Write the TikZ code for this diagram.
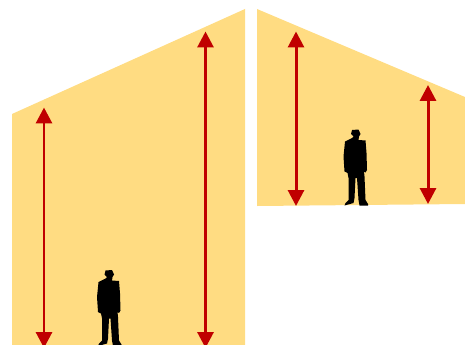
\documentclass[tikz,border=0pt]{standalone}
\usepackage{xcolor}
\usetikzlibrary{arrows.meta}
\definecolor{wallYellow}{RGB}{255,220,130}
\definecolor{heightRed}{RGB}{192,0,0}
\tikzset{
  wallshape/.style={fill=wallYellow,draw=none},
  heightline/.style={draw=heightRed,line width=1.7pt,{Triangle[length=9pt,width=9pt]}-{Triangle[length=9pt,width=9pt]}},
  person/.pic={
    \fill[black] (-4,-75.5) -- (2.5,-76) -- (4.5,-71.5) -- (3,-69) -- (2.5,-65.5) -- (9.5,-65) -- (10.5,-52.5) -- (11,-35.5) -- (9.5,-33) -- (8,-34) -- (8.5,-29) -- (9.5,-5.5) -- (12,-1.5) -- (12,0) -- (3.5,0) -- (2.5,-5.5) -- (1,-27.5) -- (-0.5,-27.5) -- (-1.5,-7.5) -- (-2.5,-2.5) -- (-11.5,0) -- (-10.5,-2.5) -- (-7.5,-5.5) -- (-7.5,-27.5) -- (-8.5,-32.5) -- (-11.5,-34) -- (-12.5,-49) -- (-11,-64) -- (-4,-67.5) -- (-2.5,-69) -- (-5,-71.5) -- cycle;
  }
}
\begin{document}
\begin{tikzpicture}[x=0.02cm,y=-0.02cm]
\useasboundingbox (0,0) rectangle (465,344);
\clip (0,0) rectangle (465,344);
\fill[wallshape] (12,114) -- (245,9) -- (245,346) -- (12,346) -- cycle;
\fill[wallshape] (257,9) -- (465,97) -- (465,204) -- (257,206) -- cycle;
\pic at (109.5,346) {person};
\pic at (356,205.5) {person};
\coordinate (leftLowTop) at (44,107.5);
\coordinate (leftLowBase) at (44,348);
\coordinate (leftHighTop) at (205.5,31.5);
\coordinate (leftHighBase) at (205.5,348);
\coordinate (rightHighTop) at (296,31.5);
\coordinate (rightHighBase) at (296,206);
\coordinate (rightLowTop) at (428,85);
\coordinate (rightLowBase) at (428,204);
\draw[heightline] (leftLowTop) -- (leftLowBase);
\draw[heightline] (leftHighTop) -- (leftHighBase);
\draw[heightline] (rightHighTop) -- (rightHighBase);
\draw[heightline] (rightLowTop) -- (rightLowBase);
\end{tikzpicture}
\end{document}
